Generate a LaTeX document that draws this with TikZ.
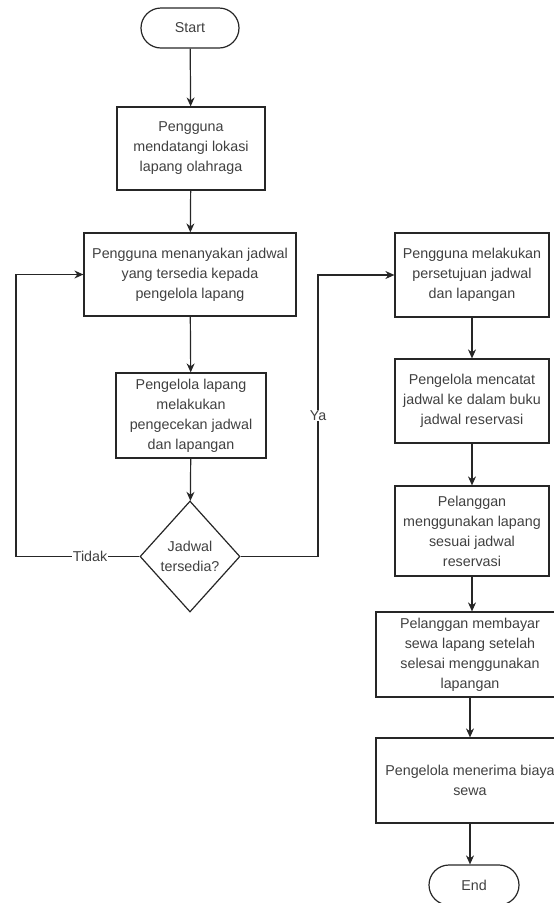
\documentclass[tikz,border=0pt]{standalone}
\usepackage{fontspec}
\setmainfont{Liberation Sans}
\usetikzlibrary{shapes.geometric,shapes.misc,arrows.meta}
\begin{document}
\begin{tikzpicture}[x=1pt,y=-1pt,
  base/.style={draw=black!85,line width=1.2pt,align=center,font=\fontsize{14.3}{20}\selectfont,text=black!75,inner sep=1pt},
  proc/.style={base,rectangle,minimum height=83pt},
  term/.style={base,rounded rectangle,minimum width=100pt,minimum height=40pt},
  dec/.style={base,diamond,minimum width=100pt,minimum height=111pt,aspect=0.9},
  arr/.style={draw=black!85,line width=1.2pt,-{Stealth[length=9pt,width=8pt]}},
  lbl/.style={fill=white,inner sep=0.5pt,font=\fontsize{14.3}{16}\selectfont,text=black!75}]
\useasboundingbox (0,0) rectangle (554,903);
\begin{scope}
\clip (0,0) rectangle (554,903);
\node[term] (start) at (190,28) {Start};
\node[proc,minimum width=148pt] (b1) at (191,148.5) {Pengguna\\mendatangi lokasi\\lapang olahraga};
\node[proc,minimum width=212pt] (b2) at (190,274.5) {Pengguna menanyakan jadwal\\yang tersedia kepada\\pengelola lapang};
\node[proc,minimum width=150pt,minimum height=85pt] (b3) at (191,415.5) {Pengelola lapang\\melakukan\\pengecekan jadwal\\dan lapangan};
\node[dec] (d) at (190,556.5) {Jadwal\\tersedia?};
\node[proc,minimum width=154pt,minimum height=84pt] (r1) at (472,275) {Pengguna melakukan\\persetujuan jadwal\\dan lapangan};
\node[proc,minimum width=154pt,minimum height=84pt] (r2) at (472,401) {Pengelola mencatat\\jadwal ke dalam buku\\jadwal reservasi};
\node[proc,minimum width=154pt,minimum height=90pt] (r3) at (472,531) {Pelanggan\\menggunakan lapang\\sesuai jadwal\\reservasi};
\node[proc,minimum width=188pt,minimum height=85pt] (r4) at (470,654.5) {Pelanggan membayar\\sewa lapang setelah\\selesai menggunakan\\lapangan};
\node[proc,minimum width=188pt,minimum height=85pt] (r5) at (470,780.5) {Pengelola menerima biaya\\sewa};
\node[term,minimum width=92pt] (end) at (474,885) {End};
\coordinate (lt) at (16,556.5);
\coordinate (lb) at (16,274.5);
\coordinate (rt) at (318,556.5);
\coordinate (rb) at (318,275);
\draw[arr] (start) -- (b1);
\draw[arr] (b1) -- (b2);
\draw[arr] (b2) -- (b3);
\draw[arr] (b3) -- (d);
\draw[arr] (d.west) -- node[lbl,pos=0.4]{Tidak} (lt) -- (lb) -- (b2.west);
\draw[arr] (d.east) -- (rt) -- node[lbl,pos=0.5]{Ya} (rb) -- (r1.west);
\draw[arr] (r1) -- (r2);
\draw[arr] (r2) -- (r3);
\draw[arr] (r3.south) -- (r4.north -| r3.south);
\draw[arr] (r4) -- (r5);
\draw[arr] (r5) -- (r5.south |- end.north);
\end{scope}
\end{tikzpicture}
\end{document}
